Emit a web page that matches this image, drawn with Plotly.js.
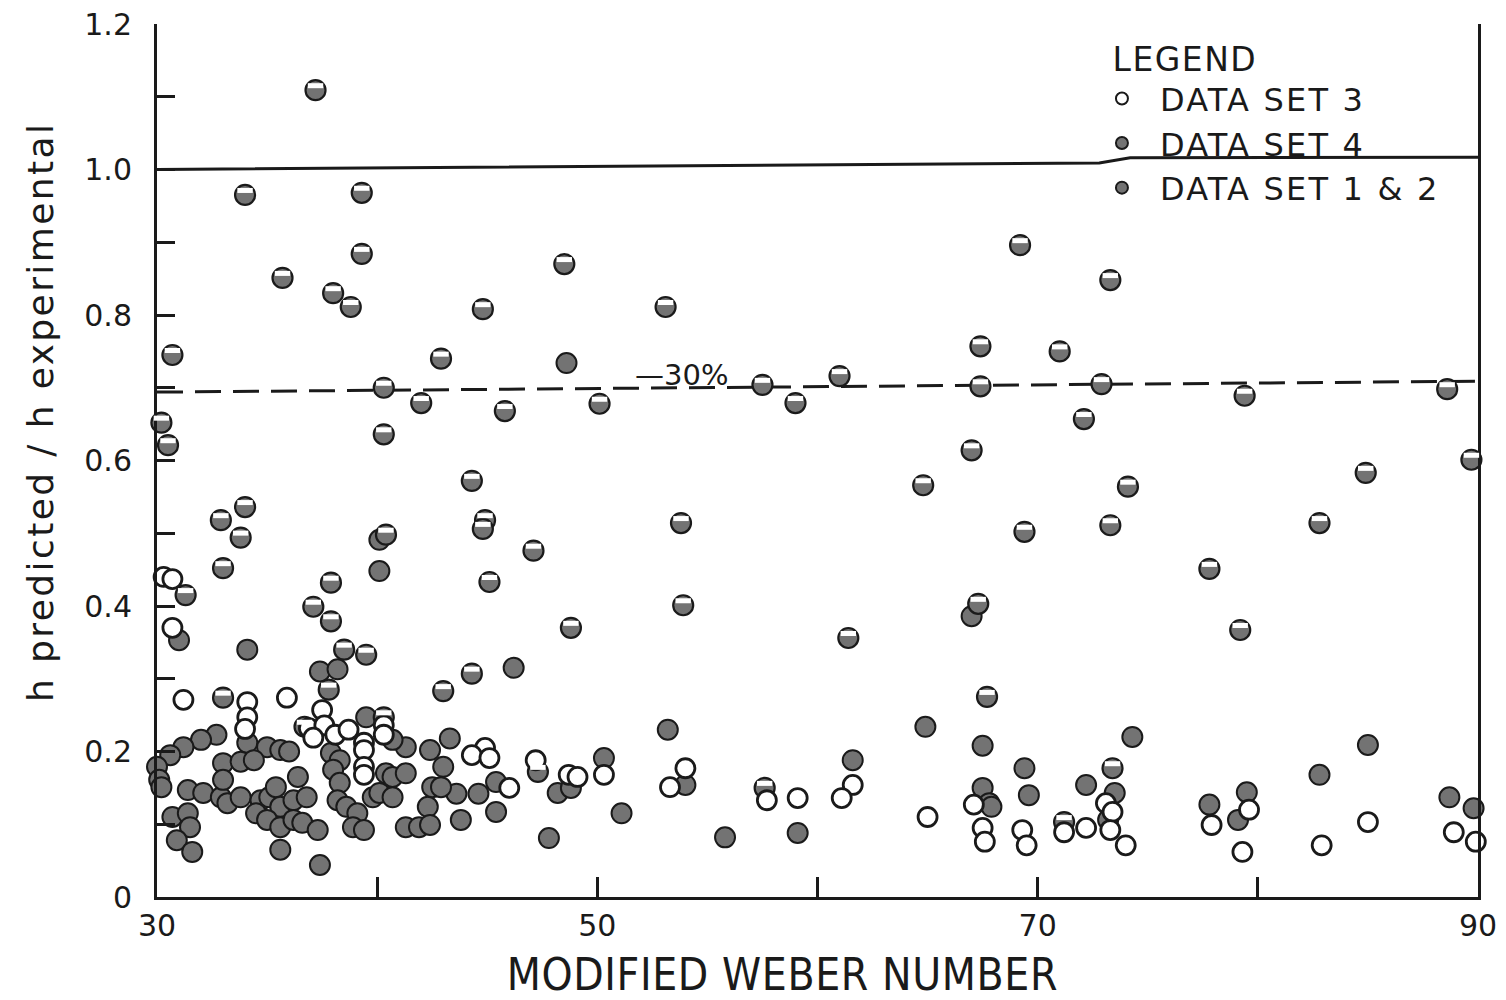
<!DOCTYPE html>
<html>
<head>
<meta charset="utf-8">
<script src="https://cdn.plot.ly/plotly-3.0.1.min.js"></script>
<style>
  html, body { margin: 0; padding: 0; background: #ffffff; }
  #chart { width: 1506px; height: 1000px; }
  /* hand-lettered look: widen the spacing of the lettering */
  #chart .annotation[data-index="0"] .annotation-text { letter-spacing: 2.4px; }
  #chart .annotation[data-index="1"] .annotation-text { letter-spacing: 0.6px; }
  #chart .annotation[data-index="2"] .annotation-text { letter-spacing: 1.5px; }
  .legendtext { letter-spacing: 2.2px; }
</style>
</head>
<body>
<div id="chart"></div>
<script>
// Data set 3 (open circles)
const set3X = [30.3,30.7,30.7,31.2,35.9,34.1,34.1,34.0,36.9,37.5,37.6,38.1,38.7,37.1,39.4,39.4,39.4,39.4,40.3,40.3,
  44.9,44.3,45.1,46.0,47.2,48.7,49.1,50.3,54.0,53.3,57.7,59.1,61.6,61.1,65.0,67.1,67.5,67.6,69.3,69.5,
  71.2,72.2,73.1,73.4,73.3,74.0,77.9,79.6,79.3,82.9,85.0,88.9,89.9];
const set3Y = [0.440,0.437,0.370,0.271,0.274,0.268,0.247,0.231,0.232,0.257,0.236,0.223,0.230,0.219,0.212,0.202,0.179,0.168,0.236,0.223,
  0.205,0.195,0.191,0.150,0.188,0.168,0.165,0.168,0.177,0.151,0.133,0.136,0.154,0.136,0.110,0.127,0.095,0.076,0.092,0.071,
  0.089,0.095,0.129,0.117,0.092,0.071,0.099,0.120,0.062,0.071,0.103,0.089,0.076];

// Data set 4 (half-shaded circles)
const set4X = [37.2,34.0,39.3,39.3,35.7,38.0,38.8,48.5,44.8,53.1,30.7,42.9,40.3,42.0,45.8,50.1,57.5,59.0,61.0,30.2,
  30.5,40.3,69.2,73.3,67.4,71.0,67.4,72.9,72.1,88.6,79.4,67.0,89.7,84.9,64.8,74.1,69.4,73.3,82.8,77.8,
  79.2,61.4,67.3,67.7,32.9,34.0,33.8,33.0,31.3,37.1,37.9,37.9,38.5,39.5,40.4,44.3,44.9,44.8,45.1,47.1,
  48.8,44.3,53.8,53.9,43.0,37.8,33.0,36.7,40.3,47.3,57.6,71.2,73.4];
const set4Y = [1.109,0.965,0.968,0.884,0.851,0.830,0.811,0.870,0.808,0.811,0.745,0.740,0.700,0.679,0.668,0.678,0.704,0.679,0.716,0.652,
  0.621,0.636,0.896,0.848,0.757,0.750,0.702,0.705,0.657,0.698,0.689,0.614,0.601,0.583,0.566,0.564,0.502,0.511,0.514,0.451,
  0.367,0.356,0.403,0.275,0.518,0.536,0.494,0.452,0.415,0.399,0.432,0.379,0.340,0.333,0.498,0.572,0.518,0.506,0.433,0.476,
  0.370,0.307,0.514,0.401,0.283,0.285,0.274,0.234,0.247,0.172,0.150,0.103,0.177];

// Data set 1 & 2 (solid shaded circles)
const set12X = [48.6,40.1,40.1,31.0,34.1,46.2,37.4,38.2,67.0,
  34.1,32.7,32.0,31.2,30.6,30.0,30.1,30.2,33.0,33.8,35.0,35.6,36.0,34.4,36.4,31.4,32.1,32.9,33.0,33.2,
  33.8,34.7,35.1,35.4,35.6,36.2,36.8,34.5,35.0,35.6,36.2,36.6,37.3,30.7,31.4,31.5,30.9,31.6,35.6,37.4,
  37.9,38.3,38.0,38.3,38.2,38.6,39.1,38.9,39.4,39.8,40.1,40.7,40.4,40.7,41.3,41.3,40.7,39.5,41.3,41.9,
  42.3,42.4,43.3,45.4,45.4,48.2,48.8,50.3,51.1,47.8,54.0,53.2,43.0,42.5,42.4,43.6,43.8,44.6,42.9,
  55.8,59.1,61.6,64.9,67.5,67.5,67.8,67.9,69.4,69.6,72.2,
  74.3,73.5,73.2,77.8,79.5,79.1,82.8,85.0,88.7,89.8];
const set12Y = [0.734,0.491,0.448,0.353,0.340,0.315,0.310,0.313,0.386,
  0.212,0.223,0.216,0.206,0.195,0.179,0.161,0.151,0.184,0.186,0.206,0.202,0.200,0.188,0.165,0.147,0.143,0.137,0.161,0.129,
  0.137,0.133,0.137,0.151,0.124,0.133,0.137,0.115,0.106,0.096,0.106,0.102,0.092,0.110,0.115,0.096,0.078,0.062,0.065,0.044,
  0.198,0.188,0.175,0.157,0.133,0.124,0.115,0.096,0.092,0.137,0.143,0.137,0.170,0.165,0.170,0.206,0.216,0.247,0.096,0.096,
  0.124,0.202,0.218,0.158,0.117,0.143,0.150,0.191,0.115,0.081,0.154,0.230,0.179,0.151,0.099,0.142,0.106,0.142,0.151,
  0.082,0.088,0.188,0.234,0.208,0.150,0.129,0.124,0.177,0.140,0.154,
  0.220,0.143,0.106,0.127,0.144,0.106,0.168,0.209,0.137,0.122];

// Reference lines: unity ratio and the -30 % band
const unityX = [30, 72.8, 74.2, 90];
const unityY = [1.0, 1.009, 1.016, 1.017];
const minus30X = [30, 90];
const minus30Y = [0.694, 0.709];

// Axis ticks
const xTickVals = [30, 40, 50, 60, 70, 80, 90];
const xTickText = ['30', '', '50', '', '70', '', '90'];
const yTickVals = [0, 0.1, 0.2, 0.3, 0.4, 0.5, 0.6, 0.7, 0.8, 0.9, 1.0, 1.1, 1.2];
const yTickText = ['0', '', '0.2', '', '0.4', '', '0.6', '', '0.8', '', '1.0', '', '1.2'];

const W = 1506, H = 1000;
const M = {l: 157, r: 28, t: 24, b: 103};
const plotH = H - M.t - M.b;
const Y_MAX = 1.2;
// Highlight caps on the half-shaded markers sit a few pixels above centre
const capLift = 4.5;
const capDomain = capLift / plotH;

const gray = '#737373';
const ink = '#1a1a1a';
const font = '"DejaVu Sans", "Liberation Sans", sans-serif';

const traces = [
  {
    x: unityX, y: unityY, mode: 'lines', showlegend: false, hoverinfo: 'skip',
    line: {color: ink, width: 3}
  },
  {
    x: minus30X, y: minus30Y, mode: 'lines', showlegend: false, hoverinfo: 'skip',
    line: {color: ink, width: 3, dash: '26px,12px'}
  },
  {
    name: 'DATA SET 1 &amp; 2', x: set12X, y: set12Y, mode: 'markers', type: 'scatter',
    cliponaxis: false, legendrank: 3,
    marker: {symbol: 'circle', size: 20, color: gray, line: {color: ink, width: 2}}
  },
  {
    name: 'DATA SET 4', x: set4X, y: set4Y, mode: 'markers', type: 'scatter',
    cliponaxis: false, legendrank: 2,
    marker: {symbol: 'circle', size: 20, color: gray, line: {color: ink, width: 2.2}}
  },
  {
    x: set4X, y: set4Y, xaxis: 'x', yaxis: 'y2', mode: 'markers', type: 'scatter',
    cliponaxis: false, showlegend: false, hoverinfo: 'skip',
    marker: {symbol: 'line-ew', size: 11, color: '#ffffff', line: {color: '#ffffff', width: 5}}
  },
  {
    name: 'DATA SET 3', x: set3X, y: set3Y, mode: 'markers', type: 'scatter',
    cliponaxis: false, legendrank: 1,
    marker: {symbol: 'circle', size: 19, color: '#ffffff', line: {color: ink, width: 2.8}}
  }
];

const layout = {
  width: W, height: H,
  margin: M,
  paper_bgcolor: '#ffffff', plot_bgcolor: 'rgba(0,0,0,0)',
  font: {family: font, color: ink},
  showlegend: true,
  legend: {
    x: 0.7017, y: 0.946, xanchor: 'left', yanchor: 'top',
    bgcolor: 'rgba(0,0,0,0)', borderwidth: 0,
    font: {family: font, size: 32, color: ink},
    itemsizing: 'constant', itemwidth: 66, tracegroupgap: 0, traceorder: 'normal'
  },
  xaxis: {
    range: [30, 90], showgrid: false, zeroline: false,
    showline: true, linecolor: ink, linewidth: 3, mirror: false,
    ticks: 'inside', ticklen: 20, tickwidth: 3, tickcolor: ink,
    tickvals: xTickVals, ticktext: xTickText,
    tickfont: {family: font, size: 30, color: ink},
    ticklabelstandoff: 0
  },
  yaxis: {
    range: [0, Y_MAX], showgrid: false, zeroline: false,
    showline: true, linecolor: ink, linewidth: 3, mirror: true,
    ticks: 'inside', ticklen: 18, tickwidth: 3, tickcolor: ink,
    tickvals: yTickVals, ticktext: yTickText,
    tickfont: {family: font, size: 30, color: ink},
    ticklabelstandoff: 16
  },
  yaxis2: {
    domain: [capDomain, 1], range: [0, Y_MAX * (1 - capDomain)],
    anchor: 'x', visible: false, showgrid: false, zeroline: false, fixedrange: true
  },
  annotations: [
    {
      // y-axis title
      text: 'h predicted / h experimental', textangle: -90,
      xref: 'paper', yref: 'paper', x: -0.088, y: 0.556,
      xanchor: 'center', yanchor: 'middle', showarrow: false,
      font: {family: font, size: 36, color: ink}
    },
    {
      // x-axis title
      text: 'MODIFIED WEBER NUMBER',
      xref: 'paper', yref: 'paper', x: 0.4738, y: -0.0893,
      xanchor: 'center', yanchor: 'middle', showarrow: false,
      font: {family: '"DejaVu Sans Condensed", "DejaVu Sans", sans-serif', size: 44, color: ink}
    },
    {
      text: 'LEGEND',
      xref: 'paper', yref: 'paper', x: 0.7252, y: 0.9588,
      xanchor: 'left', yanchor: 'middle', showarrow: false,
      font: {family: font, size: 33, color: ink}
    },
    {
      text: '\u201430%', xref: 'x', yref: 'y', x: 53.84, y: 0.7175,
      xanchor: 'center', yanchor: 'middle', showarrow: false,
      font: {family: font, size: 29, color: ink}
    }
  ]
};

Plotly.newPlot('chart', traces, layout, {displayModeBar: false, staticPlot: true});
</script>
</body>
</html>
